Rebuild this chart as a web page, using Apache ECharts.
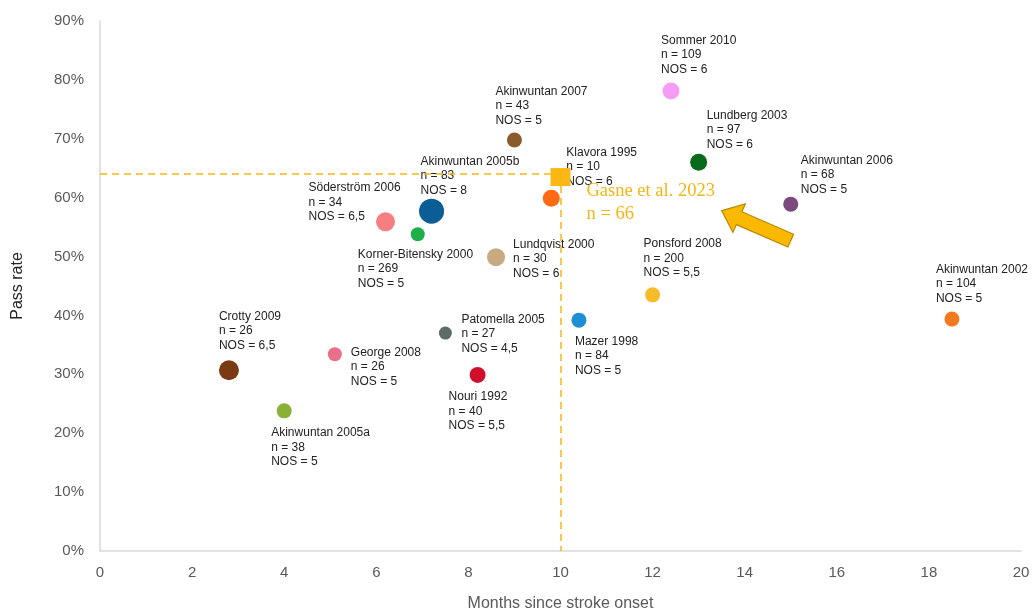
<!DOCTYPE html>
<html><head><meta charset="utf-8">
<script src="https://cdn.jsdelivr.net/npm/echarts@6/dist/echarts.min.js"></script>
<style>html,body{margin:0;padding:0;background:#fff}#c{width:1033px;height:614px}</style>
</head><body><div id="c"></div>
<script>
// ---- data ----
const studies = ['Crotty 2009','Akinwuntan 2005a','George 2008','Söderström 2006','Korner-Bitensky 2000','Akinwuntan 2005b','Patomella 2005','Nouri 1992','Lundqvist 2000','Akinwuntan 2007','Klavora 1995','Mazer 1998','Ponsford 2008','Sommer 2010','Lundberg 2003','Akinwuntan 2006','Akinwuntan 2002'];
const sampleN = [26,38,26,34,269,83,27,40,30,43,10,84,200,109,97,68,104];
const nosScore = ['6,5','5','5','6,5','5','8','4,5','5,5','6','5','6','5','5,5','6','6','5','5'];
const months = [2.8,4.0,5.1,6.2,6.9,7.2,7.5,8.2,8.6,9.0,9.8,10.4,12.0,12.4,13.0,15.0,18.5];
const passRate = [30.7,23.8,33.4,55.9,53.8,57.7,37.0,29.9,49.9,69.8,59.9,39.2,43.5,78.1,66.0,58.9,39.4];
const gasne = {name:'Gasne et al. 2023', n:66, months:10, passRate:64};
const xTicks = [0,2,4,6,8,10,12,14,16,18,20];
const yTicks = [0,10,20,30,40,50,60,70,80,90];

// ---- styles / layout (not data) ----
const colors = ['#7a3b14','#8bb036','#e8708a','#f57f80','#1fae4c','#0b5d96','#5f6a6a','#d0102b','#c8aa80','#8a5a2c','#ff6a12','#1d8fd2','#f8bb2a','#f79cf6','#0a6a1c','#7d4a7d','#f17a1f'];
const sizes  = [20,15,14,19,14,25,13,16,18,15,17,15,15,17,17,15,15];
const labelOffsets = [[-10,-61],[-13,15],[16,-9],[-77,-41],[-60,13],[-11,-57],[16,-21],[-29,15],[17,-20],[-19,-56],[15,-53],[-4,14],[-9,-58],[-10,-58],[8,-54],[10,-51],[-16,-57]];

const chart = echarts.init(document.getElementById('c'));
const pts = studies.map((s,i)=>({
  value:[months[i], passRate[i]],
  symbolSize:sizes[i],
  itemStyle:{color:colors[i], opacity:1},
  label:{show:true, position:'inside', align:'left', verticalAlign:'top', offset:labelOffsets[i],
    formatter: s + '\nn = ' + sampleN[i] + '\nNOS = ' + nosScore[i]}
}));
const gold = '#f3b612';
chart.setOption({
  animation:false,
  grid:{left:100, right:12, top:21, bottom:63, containLabel:false, outerBoundsMode:'none'},
  xAxis:{type:'value', min:xTicks[0], max:xTicks[xTicks.length-1], interval:2,
    name:'Months since stroke onset', nameLocation:'middle', nameGap:45,
    nameTextStyle:{fontFamily:'Liberation Sans', fontSize:16, color:'#595959'},
    axisLine:{lineStyle:{color:'#d9d9d9', width:1.5}}, axisTick:{show:false}, splitLine:{show:false},
    axisLabel:{fontFamily:'Liberation Sans', fontSize:15, color:'#595959', margin:14}},
  yAxis:{type:'value', min:yTicks[0], max:yTicks[yTicks.length-1], interval:10,
    name:'Pass rate', nameLocation:'middle', nameGap:74, nameRotate:90,
    nameTextStyle:{fontFamily:'Liberation Sans', fontSize:16, color:'#262626'},
    axisLine:{show:true, lineStyle:{color:'#d9d9d9', width:1.5}}, axisTick:{show:false}, splitLine:{show:false},
    axisLabel:{fontFamily:'Liberation Sans', fontSize:15, color:'#595959', margin:16, formatter:'{value}%'}},
  series:[
    {type:'scatter', data:pts, z:3,
     label:{fontFamily:'Liberation Sans', fontSize:12, lineHeight:14.5, color:'#222'}},
    {type:'scatter', z:4, symbol:'rect', symbolSize:[20,18],
     itemStyle:{color:'#fbb814', opacity:1},
     data:[{value:[gasne.months, gasne.passRate - 0.5],
       label:{show:true, position:'inside', align:'left', verticalAlign:'top', offset:[26,3],
         formatter: gasne.name + '\nn = ' + gasne.n,
         fontFamily:'Liberation Serif', fontSize:18.5, lineHeight:23, color:gold}}],
     markLine:{silent:true, symbol:'none', animation:false, label:{show:false},
       lineStyle:{color:gold, type:[7,5], width:1.5},
       data:[
         [{coord:[xTicks[0], gasne.passRate]},{coord:[gasne.months, gasne.passRate]}],
         [{coord:[gasne.months, gasne.passRate]},{coord:[gasne.months, yTicks[0]]}]
       ]}}
  ]
});

// arrow annotation pointing to Gasne label
function drawArrow(){
  const tip = chart.convertToPixel({gridIndex:0},[13.5,57.8]);
  const tail = chart.convertToPixel({gridIndex:0},[15.0,52.7]);
  const dx = tail[0]-tip[0], dy = tail[1]-tip[1];
  const L = Math.hypot(dx,dy), ux = dx/L, uy = dy/L, px = -uy, py = ux;
  const headLen = 19, headW = 15.5, shaftW = 7;
  const P = (a,b)=>[tip[0]+ux*a+px*b, tip[1]+uy*a+py*b];
  const poly = [P(0,0),P(headLen,headW),P(headLen,shaftW),P(L,shaftW),P(L,-shaftW),P(headLen,-shaftW),P(headLen,-headW)];
  chart.setOption({graphic:[{type:'polygon', shape:{points:poly}, z:10,
    style:{fill:'#fbb800', stroke:'#b88a00', lineWidth:1.2}}]});
}
drawArrow();
</script></body></html>
